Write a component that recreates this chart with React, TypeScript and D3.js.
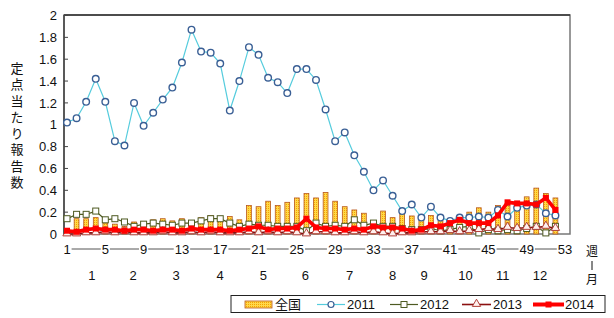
import React from "react";
import * as d3 from "d3";

// week numbers 1..52 (x categories)
const weeks = d3.range(1, 53);
const weekTicks = [1, 5, 9, 13, 17, 21, 25, 29, 33, 37, 41, 45, 49, 53];
const months = ["1", "2", "3", "4", "5", "6", "7", "8", "9", "10", "11", "12"];
// where each month label sits, in week units
const monthWeek = [3.6, 7.9, 12.4, 17.0, 21.5, 25.9, 30.5, 35.0, 38.3, 42.6, 46.5, 50.4];
const yTicks = [0, 0.2, 0.4, 0.6, 0.8, 1, 1.2, 1.4, 1.6, 1.8, 2];

const national = [
  0.05, 0.14, 0.14, 0.15, 0.1, 0.09, 0.07, 0.11, 0.11, 0.13, 0.14, 0.12, 0.14,
  0.11, 0.15, 0.17, 0.16, 0.16, 0.13, 0.26, 0.25, 0.3, 0.26, 0.29, 0.33, 0.37,
  0.33, 0.38, 0.3, 0.25, 0.22, 0.19, 0.11, 0.21, 0.15, 0.22, 0.165, 0.13, 0.17,
  0.12, 0.1, 0.13, 0.2, 0.24, 0.2, 0.26, 0.26, 0.24, 0.34, 0.42, 0.37, 0.33,
];
const y2011 = [
  1.02, 1.06, 1.21, 1.42, 1.21, 0.85, 0.81, 1.2, 0.99, 1.11, 1.23, 1.34, 1.57,
  1.87, 1.67, 1.66, 1.56, 1.13, 1.4, 1.71, 1.64, 1.43, 1.39, 1.29, 1.51, 1.51,
  1.41, 1.14, 0.85, 0.93, 0.72, 0.57, 0.4, 0.49, 0.35, 0.21, 0.27, 0.15, 0.25,
  0.15, 0.12, 0.15, 0.15, 0.16, 0.15, 0.22, 0.16, 0.24, 0.26, 0.27, 0.19, 0.17,
];
const y2012 = [
  0.14, 0.18, 0.18, 0.21, 0.13, 0.14, 0.11, 0.07, 0.09, 0.1, 0.09, 0.08, 0.1,
  0.1, 0.12, 0.14, 0.14, 0.1, 0.07, 0.09, 0.08, 0.08, 0.07, 0.07, 0.07, 0.03,
  0.1, 0.07, 0.08, 0.07, 0.13, 0.08, 0.1, 0.07, 0.07, 0.05, 0.04, 0.04, 0.05,
  0.03, 0.04, 0.06, 0.07, 0.01, 0.04, 0.03, 0.04, 0.03, 0.05, 0.07, 0.01, 0.07,
];
const y2013 = [
  0.0, 0.0, 0.01, 0.01, 0.02, 0.01, 0.02, 0.01, 0.01, 0.01, 0.02, 0.01, 0.01,
  0.02, 0.01, 0.02, 0.01, 0.01, 0.01, 0.02, 0.01, 0.02, 0.01, 0.02, 0.01, 0.0,
  0.02, 0.02, 0.01, 0.01, 0.02, 0.01, 0.02, 0.01, 0.0, 0.01, 0.01, 0.02, 0.02,
  0.02, 0.03, 0.02, 0.03, 0.04, 0.05, 0.04, 0.06, 0.05, 0.06, 0.06, 0.07, 0.05,
];
const y2014 = [
  0.03, 0.02, 0.04, 0.05, 0.04, 0.04, 0.03, 0.04, 0.04, 0.03, 0.04, 0.04, 0.03,
  0.05, 0.04, 0.04, 0.04, 0.03, 0.04, 0.05, 0.07, 0.04, 0.05, 0.05, 0.06, 0.14,
  0.06, 0.05, 0.05, 0.04, 0.05, 0.04, 0.07, 0.06, 0.06, 0.05, 0.03, 0.04, 0.08,
  0.07, 0.1, 0.13, 0.1, 0.1, 0.1, 0.17, 0.29, 0.28, 0.28, 0.27, 0.33, 0.22,
];

const font = "'Liberation Sans', Arial, sans-serif";
const jpFont = "'Noto Sans CJK JP', sans-serif";

export default function App() {
  const left = 64, right = 570, top = 15, bottom = 234;
  const x = d3.scaleLinear().domain([1, 53]).range([67, 565]);
  const y = d3.scaleLinear().domain([0, 2]).range([bottom, top + 0.5]);

  const line = d3
    .line<number>()
    .x((_, i) => x(weeks[i]))
    .y((d) => y(d));

  const tri = d3.symbol().type(d3.symbolTriangle).size(30)();

  return (
    <div style={{ position: "absolute", left: 0, top: 0 }}>
      <svg width={614} height={318} style={{ display: "block", background: "#fff" }}>
        <defs>
          <pattern id="dots" width={2} height={2} patternUnits="userSpaceOnUse">
            <rect width={2} height={2} fill="#FFD84A" />
            <rect width={1} height={1} fill="#F5A300" />
          </pattern>
        </defs>

        {/* plot frame */}
        <rect x={left} y={top} width={right - left} height={bottom - top} fill="none" stroke="#777" strokeWidth={1.5} />
        <line x1={left} x2={right} y1={top} y2={top} stroke="#333" strokeWidth={1.5} />
        <line x1={left} x2={left} y1={top} y2={bottom} stroke="#444" strokeWidth={1.5} />

        {/* y axis */}
        {yTicks.map((t) => (
          <g key={t}>
            <line x1={left} x2={left + 4} y1={y(t)} y2={y(t)} stroke="#444" />
            <text x={57} y={y(t)} dy="0.36em" textAnchor="end" fontFamily={font} fontSize={13} fill="#111">
              {String(+t.toFixed(1))}
            </text>
          </g>
        ))}
        <text
          x={17}
          y={61.5}
          fontFamily={jpFont}
          fontSize={13}
          fill="#111"
          style={{ writingMode: "vertical-rl", letterSpacing: "3.3px" }}
        >
          定点当たり報告数
        </text>

        {/* national bars */}
        {national.map((v, i) => (
          <rect
            key={i}
            x={x(weeks[i]) - 2.4}
            y={y(v)}
            width={4.8}
            height={bottom - y(v)}
            fill="url(#dots)"
            stroke="#B8581E"
            strokeWidth={0.8}
          />
        ))}

        {/* 2011 */}
        <path d={line(y2011) ?? ""} fill="none" stroke="#55CCDD" strokeWidth={1.2} />
        {y2011.map((v, i) => (
          <circle key={i} cx={x(weeks[i])} cy={y(v)} r={3.3} fill="#fff" stroke="#3A5F95" strokeWidth={1.4} />
        ))}

        {/* 2012 */}
        <path d={line(y2012) ?? ""} fill="none" stroke="#4E5A22" strokeWidth={1.2} />
        {y2012.map((v, i) => (
          <rect key={i} x={x(weeks[i]) - 3} y={y(v) - 3} width={6} height={6} fill="#fff" stroke="#4E5A22" strokeWidth={1} />
        ))}

        {/* 2013 */}
        <path d={line(y2013) ?? ""} fill="none" stroke="#8B1010" strokeWidth={1.6} />
        {y2013.map((v, i) => (
          <path key={i} d={tri ?? ""} transform={`translate(${x(weeks[i])},${y(v) - 0.5})`} fill="#FFF0EE" stroke="#B0403A" strokeWidth={1} />
        ))}

        {/* 2014 */}
        <path d={line(y2014) ?? ""} fill="none" stroke="#FF0000" strokeWidth={3.6} />
        {y2014.map((v, i) => (
          <rect key={i} x={x(weeks[i]) - 3} y={y(v) - 3} width={6} height={6} fill="#FF0000" />
        ))}

        {/* week axis */}
        <line x1={x(1)} x2={x(53)} y1={249} y2={249} stroke="#555" strokeWidth={1} />
        {weekTicks.map((w) => {
          const wd = String(w).length * 7.2 + 2;
          return (
            <g key={w}>
              <rect x={x(w) - wd / 2} y={242} width={wd} height={14} fill="#fff" />
              <text x={x(w)} y={249} dy="0.36em" textAnchor="middle" fontFamily={font} fontSize={13} fill="#111">
                {w}
              </text>
            </g>
          );
        })}
        {months.map((m, i) => (
          <text key={m} x={x(monthWeek[i])} y={275} dy="0.36em" textAnchor="middle" fontFamily={font} fontSize={13} fill="#111">
            {m}
          </text>
        ))}
        <text x={592} y={252} dy="0.36em" textAnchor="middle" fontFamily={jpFont} fontSize={12} fill="#111">週</text>
        <line x1={592} x2={592} y1={261} y2={270} stroke="#111" strokeWidth={1} />
        <text x={592} y={280} dy="0.36em" textAnchor="middle" fontFamily={jpFont} fontSize={12} fill="#111">月</text>

        {/* legend */}
        <rect x={231} y={295.5} width={374} height={17} fill="#fff" stroke="#222" strokeWidth={1} />
        <rect x={245} y={301} width={27} height={7} fill="url(#dots)" stroke="#B8581E" strokeWidth={0.8} />
        <text x={275} y={304.5} dy="0.36em" fontFamily={jpFont} fontSize={13} fill="#111">全国</text>

        <line x1={317} x2={345} y1={304.5} y2={304.5} stroke="#55CCDD" strokeWidth={1.2} />
        <circle cx={331} cy={304.5} r={3} fill="#fff" stroke="#3A5F95" strokeWidth={1.2} />
        <text x={347} y={304.5} dy="0.36em" fontFamily={font} fontSize={13} fill="#111">2011</text>

        <line x1={390} x2={418} y1={304.5} y2={304.5} stroke="#4E5A22" strokeWidth={1.2} />
        <rect x={401} y={301.5} width={6} height={6} fill="#fff" stroke="#4E5A22" />
        <text x={420} y={304.5} dy="0.36em" fontFamily={font} fontSize={13} fill="#111">2012</text>

        <line x1={462} x2={491} y1={304.5} y2={304.5} stroke="#8B1010" strokeWidth={1.6} />
        <path d={tri ?? ""} transform={`translate(476.5,304)`} fill="#FFF0EE" stroke="#B0403A" />
        <text x={493} y={304.5} dy="0.36em" fontFamily={font} fontSize={13} fill="#111">2013</text>

        <line x1={533} x2={564} y1={304.5} y2={304.5} stroke="#FF0000" strokeWidth={4} />
        <rect x={545.5} y={301.5} width={6} height={6} fill="#FF0000" />
        <text x={565} y={304.5} dy="0.36em" fontFamily={font} fontSize={13} fill="#111">2014</text>
      </svg>
    </div>
  );
}
